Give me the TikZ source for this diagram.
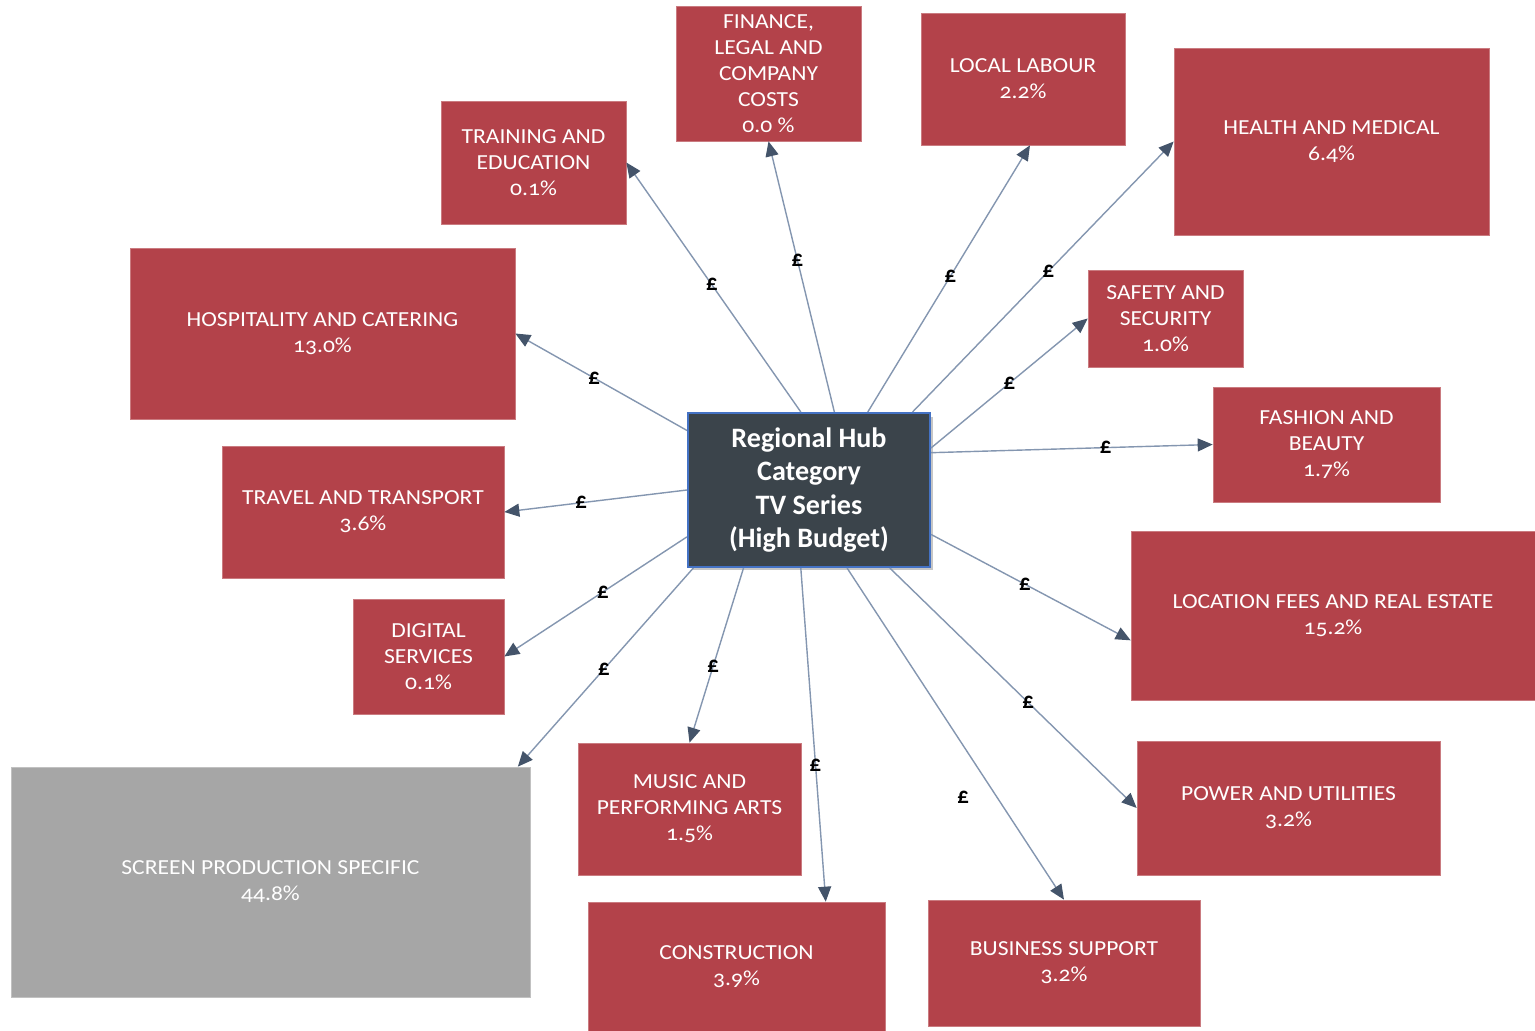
\documentclass[tikz,border=0pt]{standalone}
\usepackage{fontspec}
\setmainfont[Numbers=OldStyle]{Carlito}
\newfontfamily\catfont[Numbers=OldStyle, FakeStretch=1.1]{Carlito}
\usepackage{xcolor}
\usetikzlibrary{arrows.meta}
\usetikzlibrary{shadows}

\definecolor{boxred}{HTML}{B3424A}
\definecolor{boxgrey}{HTML}{A6A6A6}
\definecolor{hubfill}{HTML}{3B444B}
\definecolor{hubline}{HTML}{4472C4}
\definecolor{linkline}{HTML}{8496B0}
\definecolor{tipblue}{HTML}{44546A}

\begin{document}
\begin{tikzpicture}[
	x=0.02cm, y=-0.02cm,
	cat/.style={rectangle, fill=boxred, draw=boxred!70!white, line width=0.4pt, text=white, align=center, inner sep=0pt, font={\catfont\fontsize{12.2}{14.8}\selectfont}},
	other/.style={cat, fill=boxgrey, draw=boxgrey!70!white},
	hub/.style={rectangle, fill=hubfill, draw=hubline, line width=1.2pt, text=white, align=center, inner sep=0pt, font={\bfseries\fontsize{16}{18.8}\selectfont}, drop shadow={shadow xshift=0.07cm, shadow yshift=-0.07cm, opacity=0.45}},
	link/.style={draw=linkline, line width=0.8pt, -{Triangle[length=0.3cm, width=0.26cm, color=tipblue]}},
	pound/.style={text=black, inner sep=0pt, font={\bfseries\fontsize{13}{15}\selectfont}},
	]

	\useasboundingbox (0,0) rectangle (1535,1031);

	% centre
	\node[hub, minimum width=4.84cm, minimum height=3.08cm] (hub) at (809,490) {Regional Hub\\Category\\TV Series\\(High Budget)};

	% categories
	\node[cat, minimum width=3.70cm, minimum height=2.70cm] (fin) at (768.5,73.5) {FINANCE,\\LEGAL AND\\COMPANY\\COSTS\\0.0 \%};
	\node[cat, minimum width=4.08cm, minimum height=2.64cm] (lab) at (1023,79) {LOCAL LABOUR\\2.2\%};
	\node[cat, minimum width=6.30cm, minimum height=3.74cm] (med) at (1331.5,141.5) {HEALTH AND MEDICAL\\6.4\%};
	\node[cat, minimum width=3.70cm, minimum height=2.46cm] (trn) at (533.5,162.5) {TRAINING AND\\EDUCATION\\0.1\%};
	\node[cat, minimum width=7.70cm, minimum height=3.42cm] (hosp) at (322.5,333.5) {HOSPITALITY AND CATERING\\13.0\%};
	\node[cat, minimum width=3.10cm, minimum height=1.94cm] (safe) at (1165.5,318.5) {SAFETY AND\\SECURITY\\1.0\%};
	\node[cat, minimum width=4.54cm, minimum height=2.30cm] (fash) at (1326.5,444.5) {FASHION AND\\BEAUTY\\1.7\%};
	\node[cat, minimum width=5.64cm, minimum height=2.64cm] (trav) at (363,512) {TRAVEL AND TRANSPORT\\3.6\%};
	\node[cat, minimum width=3.02cm, minimum height=2.30cm] (dig) at (428.5,656.5) {DIGITAL\\SERVICES\\0.1\%};
	\node[cat, minimum width=8.08cm, minimum height=3.38cm] (loc) at (1333,615.5) {LOCATION FEES AND REAL ESTATE\\15.2\%};
	\node[other, minimum width=10.38cm, minimum height=4.60cm] (scr) at (270.5,882) {SCREEN PRODUCTION SPECIFIC\\44.8\%};
	\node[cat, minimum width=4.46cm, minimum height=2.64cm] (mus) at (689.5,809) {MUSIC AND\\PERFORMING ARTS\\1.5\%};
	\node[cat, minimum width=6.06cm, minimum height=2.68cm] (pow) at (1288.5,808) {POWER AND UTILITIES\\3.2\%};
	\node[cat, minimum width=5.94cm, minimum height=2.58cm] (con) at (736.5,966.5) {CONSTRUCTION\\3.9\%};
	\node[cat, minimum width=5.44cm, minimum height=2.52cm] (bus) at (1064,963) {BUSINESS SUPPORT\\3.2\%};

	% spend links
	\draw[link] (hub.96.4) -- (trn.east) node[pound, pos=0.51] {£};
	\draw[link] (hub.72.4) -- (fin.south) node[pound, pos=0.56] {£};
	\draw[link] (hub.53.2) -- (lab.-84) node[pound, pos=0.51] {£};
	\draw[link] (hub.37.5) -- (med.west) node[pound, pos=0.52] {£};
	\draw[link] (hub.19.1) -- (safe.west) node[pound, pos=0.50] {£};
	\draw[link] (hub.17.4) -- (fash.west) node[pound, pos=0.62] {£};
	\draw[link] (hub.-20.4) -- (loc.187.2) node[pound, pos=0.47] {£};
	\draw[link] (hub.-44.6) -- (pow.west) node[pound, pos=0.56] {£};
	\draw[link] (hub.-64) -- (bus.north) node[pound, pos=0.69, xshift=-0.67cm] {£};
	\draw[link] (hub.264.9) -- (con.36.9) node[pound, pos=0.59] {£};
	\draw[link] (hub.230.6) -- (mus.north) node[pound, pos=0.56] {£};
	\draw[link] (hub.214.4) -- (scr.25.8) node[pound, pos=0.51] {£};
	\draw[link] (hub.201.2) -- (dig.east) node[pound, pos=0.46] {£};
	\draw[link] (hub.west) -- (trav.east) node[pound, pos=0.58] {£};
	\draw[link] (hub.154.4) -- (hosp.east) node[pound, pos=0.54] {£};

\end{tikzpicture}
\end{document}
